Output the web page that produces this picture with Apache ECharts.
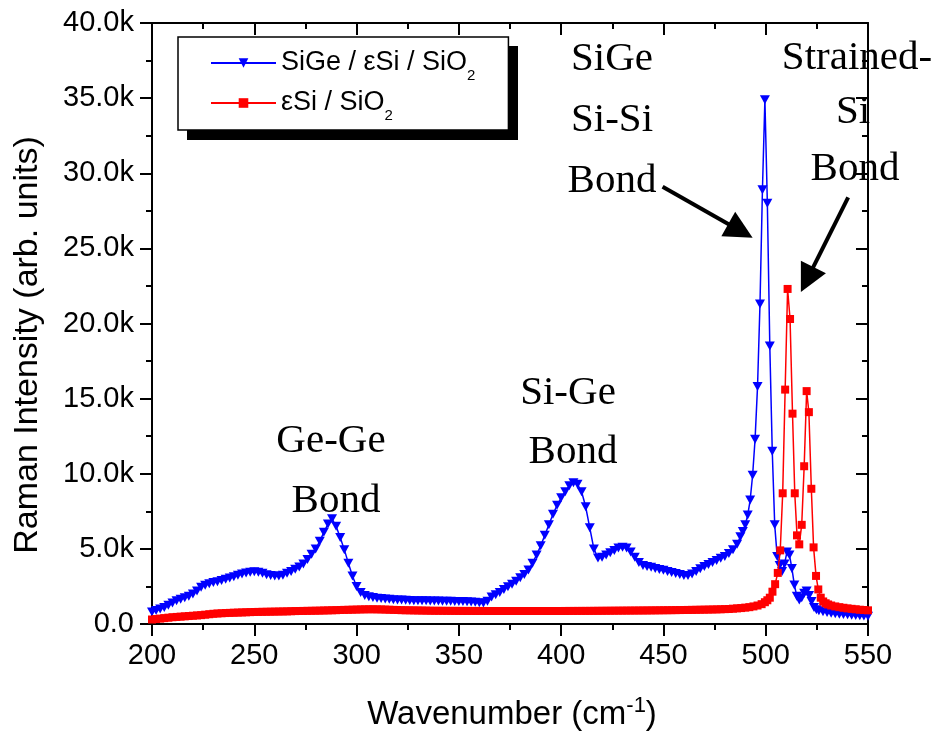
<!DOCTYPE html>
<html><head><meta charset="utf-8">
<script src="https://cdn.jsdelivr.net/npm/echarts@6/dist/echarts.min.js"></script>
<style>html,body{margin:0;padding:0;background:#fff}#c{width:934px;height:736px}</style>
</head><body><div id="c"></div>
<script>
// ---- data ----
const xTickValues = [200, 250, 300, 350, 400, 450, 500, 550];
const yTickValues = [0, 5000, 10000, 15000, 20000, 25000, 30000, 35000, 40000];
const seriesNames = ['SiGe / \u03B5Si / SiO2', '\u03B5Si / SiO2'];

const sigeWave = [200,202,204,206,208,210,212,214,216,218,220,222,224,226,228,230,232,234,236,238,240,242,244,246,248,250,252,254,256,258,260,262,264,266,268,270,272,274,276,278,280,282,284,286,288,290,292,294,296,298,300,302,304,306,308,310,312,314,316,318,320,322,324,326,328,330,332,334,336,338,340,342,344,346,348,350,352,354,356,358,360,362,364,366,368,370,372,374,376,378,380,382,384,386,388,390,392,394,396,398,400,402,404,406,408,410,412,414,416,418,420,422,424,426,428,430,432,434,436,438,440,442,444,446,448,450,452,454,456,458,460,462,464,466,468,470,472,474,476,478,480,482,484,486,
487.6,488.8,490.0,491.2,492.4,493.6,494.8,496.0,497.2,498.4,499.6,500.8,502.0,503.2,504.4,505.6,506.8,508.0,509.2,510.4,511.6,512.8,514.0,515.2,516.4,517.6,518.8,520.0,521.2,522.4,523.6,524.8,526.0,
528,530,532,534,536,538,540,542,544,546,548,550];
const sigeIntensity = [800,900,1000,1100,1250,1400,1550,1650,1750,1850,2000,2200,2450,2580,2680,2760,2820,2900,2980,3060,3150,3250,3330,3400,3450,3480,3450,3380,3280,3220,3190,3190,3250,3380,3500,3650,3800,4000,4300,4650,5000,5500,6100,6650,7000,6500,5750,4950,4050,3200,2500,2100,1900,1820,1760,1720,1690,1660,1640,1620,1600,1590,1575,1565,1555,1550,1545,1540,1535,1530,1525,1520,1515,1510,1505,1500,1495,1485,1470,1440,1410,1390,1520,1800,1950,2100,2300,2480,2650,2850,3080,3300,3600,4050,4600,5200,5900,6600,7300,7900,8400,8800,9200,9400,9300,8800,7800,6400,5000,4400,4450,4600,4750,4900,5050,5100,5050,4800,4450,4100,3900,3830,3770,3700,3630,3570,3500,3430,3360,3300,3230,3220,3330,3500,3680,3830,3960,4100,4230,4370,4500,4700,4950,5300,
5800,6150,6600,7250,8250,9900,12300,15800,21300,28900,34900,28000,18500,11500,6600,4500,3900,3500,4000,4800,4600,3700,2600,1850,1600,1750,2050,2200,1900,1500,1100,950,880,
820,760,720,680,650,630,610,590,570,550,530,510];

const ssiWave = [200,202,204,206,208,210,212,214,216,218,220,222,224,226,228,230,232,234,236,238,240,242,244,246,248,250,252,254,256,258,260,262,264,266,268,270,272,274,276,278,280,282,284,286,288,290,292,294,296,298,300,302,304,306,308,310,312,314,316,318,320,322,324,326,328,330,332,334,336,338,340,342,344,346,348,350,352,354,356,358,360,362,364,366,368,370,372,374,376,378,380,382,384,386,388,390,392,394,396,398,400,402,404,406,408,410,412,414,416,418,420,422,424,426,428,430,432,434,436,438,440,442,444,446,448,450,452,454,456,458,460,462,464,466,468,470,472,474,476,478,480,482,484,486,488,490,492,494,496,498,
499.6,500.8,502.0,503.3,504.6,505.9,507.1,508.3,509.5,510.7,511.9,513.1,514.2,515.3,516.4,517.6,518.8,520.0,521.1,522.3,523.4,524.6,525.7,526.9,528.1,529.3,530.5,
532,534,536,538,540,542,544,546,548,550];
const ssiIntensity = [300,330,360,390,420,450,470,490,510,530,550,570,590,620,650,680,700,715,730,740,750,760,770,780,790,800,805,810,815,820,825,830,835,840,850,860,865,870,875,880,885,890,900,905,915,920,930,940,945,955,960,970,975,980,980,975,970,960,950,940,930,920,915,910,905,900,895,890,885,880,880,878,876,875,874,872,871,870,870,869,868,868,867,867,866,866,865,865,865,864,864,864,864,864,865,865,865,866,866,866,867,868,869,870,871,872,873,874,876,878,880,882,884,886,888,890,892,894,896,898,900,902,905,908,911,914,917,920,924,928,932,936,940,945,950,955,960,966,972,980,990,1000,1020,1040,1060,1090,1120,1170,1230,1320,
1450,1580,1750,2150,2650,3400,4900,8700,15600,22300,20300,14000,8700,5900,5300,6600,10500,15500,14100,9000,5100,3200,2300,1750,1500,1380,1300,
1230,1170,1120,1080,1040,1010,980,950,930,910];

// annotation texts: [text, centre x, baseline y] (layout)
const annotationTexts = [
  ['Ge-Ge', 331, 455], ['Bond', 336, 515],
  ['Si-Ge', 568, 407], ['Bond', 573, 466],
  ['SiGe', 612, 73], ['Si-Si', 612, 134], ['Bond', 612, 195],
  ['Strained-', 857, 72], ['Si', 853, 126], ['Bond', 855, 183]
];
// arrows in data coordinates: [start, tip]
const arrowCoords = [
  [[449.6, 29100], [493.6, 25700]],
  [[540.3, 28400], [517.2, 22100]]
];

// ---- chart ----
const chart = echarts.init(document.getElementById('c'));
const sans = 'Liberation Sans, Arial, sans-serif';
const serif = 'Liberation Serif, Times New Roman, serif';
const axisCommon = {
  axisLine: { show: true, onZero: false, lineStyle: { color: '#000', width: 2 } },
  splitLine: { show: false },
  minorSplitLine: { show: false }
};
const blueData = sigeWave.map((w, i) => [w, sigeIntensity[i]]);
const redData = ssiWave.map((w, i) => [w, ssiIntensity[i]]);

chart.setOption({
  animation: false,
  backgroundColor: '#fff',
  grid: { left: 152, right: 66, top: 23, bottom: 112 },
  xAxis: [
    Object.assign({}, axisCommon, {
      type: 'value', position: 'bottom', min: 200, max: 550, interval: 50,
      axisTick: { show: true, inside: false, length: 12, lineStyle: { color: '#000', width: 2 } },
      minorTick: { show: true, splitNumber: 2, length: 6, lineStyle: { color: '#000', width: 2 } },
      axisLabel: { color: '#000', fontSize: 29, fontFamily: sans, margin: 17 }
    }),
    Object.assign({}, axisCommon, {
      type: 'value', position: 'top', min: 200, max: 550, interval: 50,
      axisTick: { show: true, inside: true, length: 12, lineStyle: { color: '#000', width: 2 } },
      minorTick: { show: true, splitNumber: 2, length: 6, lineStyle: { color: '#000', width: 2 } },
      axisLabel: { show: false }
    })
  ],
  yAxis: [
    Object.assign({}, axisCommon, {
      type: 'value', position: 'left', min: 0, max: 40000, interval: 5000,
      axisTick: { show: true, inside: false, length: 12, lineStyle: { color: '#000', width: 2 } },
      minorTick: { show: true, splitNumber: 2, length: 6, lineStyle: { color: '#000', width: 2 } },
      axisLabel: { color: '#000', fontSize: 29, fontFamily: sans, margin: 18,
        formatter: v => v === 0 ? '0.0' : (v / 1000).toFixed(1) + 'k' }
    }),
    Object.assign({}, axisCommon, {
      type: 'value', position: 'right', min: 0, max: 40000, interval: 5000,
      axisTick: { show: true, inside: true, length: 12, lineStyle: { color: '#000', width: 2 } },
      minorTick: { show: true, splitNumber: 2, length: 6, lineStyle: { color: '#000', width: 2 } },
      axisLabel: { show: false }
    })
  ],
  legend: {
    data: seriesNames,
    orient: 'vertical', left: 178, top: 37,
    padding: [6, 33, 7, 32],
    itemWidth: 65, itemHeight: 12, itemGap: 0,
    backgroundColor: '#fff', borderColor: '#000', borderWidth: 1.5,
    z: 6,
    formatter: name => name.slice(0, -1) + '{s|2}',
    textStyle: {
      color: '#000', fontFamily: sans, fontSize: 27, lineHeight: 40,
      rich: {
        s: { fontSize: 15, lineHeight: 15, verticalAlign: 'bottom', fontFamily: sans, color: '#000' }
      }
    }
  },
  series: [
    {
      name: seriesNames[0], type: 'line', data: blueData,
      symbol: 'path://M0,0L10,0L5,9Z', symbolSize: [10, 9], showSymbol: true,
      lineStyle: { color: '#0000ff', width: 1.5 },
      itemStyle: { color: '#0000ff' }, z: 2
    },
    {
      name: seriesNames[1], type: 'line', data: redData,
      symbol: 'rect', symbolSize: 8, showSymbol: true,
      lineStyle: { color: '#ff0000', width: 1.5 },
      itemStyle: { color: '#ff0000' }, z: 3
    }
  ]
});

// ---- graphics: legend shadow, titles, annotations, arrows ----
const g = [];
g.push({ type: 'rect', z: 5, shape: { x: 187, y: 46, width: 331, height: 94 }, style: { fill: '#000' } });
g.push({ type: 'text', z: 10, x: 28, y: 345, rotation: Math.PI / 2,
  style: { text: 'Raman Intensity (arb. units)', fontSize: 34, fontFamily: sans, fill: '#000', align: 'center', verticalAlign: 'middle' } });
g.push({ type: 'text', z: 10, x: 512, y: 715,
  style: { text: '{a|Wavenumber (cm}{b|-1}{a|)}', fill: '#000', align: 'center', verticalAlign: 'middle',
    rich: { a: { fontSize: 33, lineHeight: 40, fontFamily: sans, fill: '#000' },
            b: { fontSize: 22, lineHeight: 22, verticalAlign: 'top', fontFamily: sans, fill: '#000' } } } });
annotationTexts.forEach(t => {
  g.push({ type: 'text', z: 10, x: t[1], y: t[2] - 14,
    style: { text: t[0], fontSize: 41, fontFamily: serif, fill: '#000', align: 'center', verticalAlign: 'middle' } });
});
arrowCoords.forEach(a => {
  const s = chart.convertToPixel({ gridIndex: 0 }, a[0]);
  const t = chart.convertToPixel({ gridIndex: 0 }, a[1]);
  const dx = t[0] - s[0], dy = t[1] - s[1], L = Math.hypot(dx, dy);
  const ux = dx / L, uy = dy / L, nx = -uy, ny = ux;
  const headLen = 28, halfW = 14;
  const bx = t[0] - ux * headLen, by = t[1] - uy * headLen;
  g.push({ type: 'line', z: 10, shape: { x1: s[0], y1: s[1], x2: bx + ux * 4, y2: by + uy * 4 },
    style: { stroke: '#000', lineWidth: 4 } });
  g.push({ type: 'polygon', z: 10, shape: { points: [[t[0], t[1]], [bx + nx * halfW, by + ny * halfW], [bx - nx * halfW, by - ny * halfW]] },
    style: { fill: '#000' } });
});
chart.setOption({ graphic: g });
</script>
</body></html>
